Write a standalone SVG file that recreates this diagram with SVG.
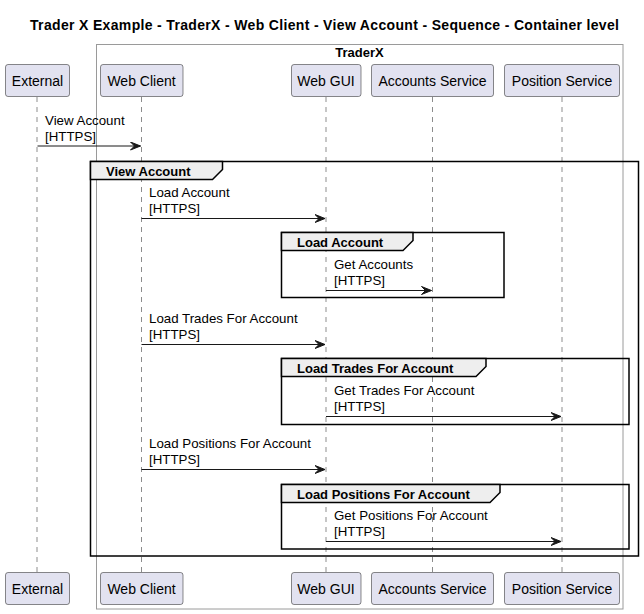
<svg xmlns="http://www.w3.org/2000/svg" width="644" height="614" viewBox="0 0 644 614">
<defs>
<style>
.title{font-family:"Liberation Sans",Arial,sans-serif;font-size:14px;font-weight:bold;fill:#000}
.box{fill:none;stroke:#9a9a9a;stroke-width:1}
.boxlabel{font-family:"Liberation Sans",Arial,sans-serif;font-size:13px;font-weight:bold;fill:#000}
.part rect{fill:#E2E2F0;stroke:#181818;stroke-width:0.5}
.part text{font-family:"Liberation Sans",Arial,sans-serif;font-size:14px;fill:#000;text-anchor:middle}
.life{stroke:#181818;stroke-width:0.5;stroke-dasharray:5,5;fill:none}
.frame{fill:none;stroke:#000;stroke-width:1.5}
.tab{fill:#EEEEEE;stroke:#000;stroke-width:1.5}
.tabtext{font-family:"Liberation Sans",Arial,sans-serif;font-size:13px;font-weight:bold;fill:#000}
.msg{stroke:#181818;stroke-width:1;fill:none}
.msgtext{font-family:"Liberation Sans",Arial,sans-serif;font-size:13.3px;fill:#000}
</style>
<marker id="arr" viewBox="0 0 11 9" refX="10.5" refY="4.5" markerWidth="11" markerHeight="9" markerUnits="userSpaceOnUse" orient="auto">
<polygon points="0.5,0.5 10.5,4.5 0.5,8.5 4.5,4.5" fill="#181818" stroke="#181818" stroke-width="1"/>
</marker>
</defs>
<rect width="644" height="614" fill="#fff"/>
<text class="title" x="30" y="29.5" textLength="589" lengthAdjust="spacing">Trader X Example - TraderX - Web Client - View Account - Sequence - Container level</text>

<g id="box-traderx">
<rect class="box" x="96.5" y="44.5" width="526.5" height="564.5"/>
<text class="boxlabel" x="359.5" y="57" text-anchor="middle">TraderX</text>
</g>

<g id="lifelines">
<line class="life" x1="37" y1="97" x2="37" y2="572"/>
<line class="life" x1="141.5" y1="97" x2="141.5" y2="572"/>
<line class="life" x1="326" y1="97" x2="326" y2="572"/>
<line class="life" x1="432.5" y1="97" x2="432.5" y2="572"/>
<line class="life" x1="562" y1="97" x2="562" y2="572"/>
</g>

<g id="external" class="part">
<rect x="5.5" y="64.5" width="64" height="32" rx="2.5"/>
<text x="37.5" y="86">External</text>
<rect x="5.5" y="572.5" width="64" height="32" rx="2.5"/>
<text x="37.5" y="594">External</text>
</g>
<g id="web-client" class="part">
<rect x="100.5" y="64.5" width="82.5" height="32" rx="2.5"/>
<text x="141.5" y="86">Web Client</text>
<rect x="100.5" y="572.5" width="82.5" height="32" rx="2.5"/>
<text x="141.5" y="594">Web Client</text>
</g>
<g id="web-gui" class="part">
<rect x="291.5" y="64.5" width="69.5" height="32" rx="2.5"/>
<text x="326" y="86">Web GUI</text>
<rect x="291.5" y="572.5" width="69.5" height="32" rx="2.5"/>
<text x="326" y="594">Web GUI</text>
</g>
<g id="accounts-service" class="part">
<rect x="371.5" y="64.5" width="122" height="32" rx="2.5"/>
<text x="432.5" y="86">Accounts Service</text>
<rect x="371.5" y="572.5" width="122" height="32" rx="2.5"/>
<text x="432.5" y="594">Accounts Service</text>
</g>
<g id="position-service" class="part">
<rect x="504.5" y="64.5" width="115" height="32" rx="2.5"/>
<text x="562" y="86">Position Service</text>
<rect x="504.5" y="572.5" width="115" height="32" rx="2.5"/>
<text x="562" y="594">Position Service</text>
</g>

<g id="group-view-account">
<rect class="frame" x="90.5" y="161.5" width="548" height="394.5"/>
<polygon class="tab" points="90.5,161.5 222.5,161.5 222.5,169.5 212.5,179.5 90.5,179.5"/>
<text class="tabtext" x="106" y="176">View Account</text>
</g>
<g id="group-load-account">
<rect class="frame" x="281.5" y="232.5" width="222.5" height="65"/>
<polygon class="tab" points="281.5,232.5 413,232.5 413,240.5 403,250.5 281.5,250.5"/>
<text class="tabtext" x="297" y="247">Load Account</text>
</g>
<g id="group-load-trades">
<rect class="frame" x="281.5" y="358.5" width="347.5" height="66"/>
<polygon class="tab" points="281.5,358.5 486,358.5 486,366.5 476,376.5 281.5,376.5"/>
<text class="tabtext" x="297" y="373">Load Trades For Account</text>
</g>
<g id="group-load-positions">
<rect class="frame" x="281.5" y="484.5" width="347.5" height="64.5"/>
<polygon class="tab" points="281.5,484.5 500,484.5 500,492.5 490,502.5 281.5,502.5"/>
<text class="tabtext" x="297" y="499">Load Positions For Account</text>
</g>

<g id="connectors">
<line class="msg" x1="37.5" y1="146" x2="140.5" y2="146" marker-end="url(#arr)"/>
<text class="msgtext" x="45" y="125">View Account</text>
<text class="msgtext" x="45" y="141">[HTTPS]</text>

<line class="msg" x1="141.5" y1="218.5" x2="325" y2="218.5" marker-end="url(#arr)"/>
<text class="msgtext" x="149" y="197">Load Account</text>
<text class="msgtext" x="149" y="213">[HTTPS]</text>

<line class="msg" x1="326" y1="290.5" x2="431.5" y2="290.5" marker-end="url(#arr)"/>
<text class="msgtext" x="334" y="269">Get Accounts</text>
<text class="msgtext" x="334" y="285">[HTTPS]</text>

<line class="msg" x1="141.5" y1="344.5" x2="325" y2="344.5" marker-end="url(#arr)"/>
<text class="msgtext" x="149" y="323">Load Trades For Account</text>
<text class="msgtext" x="149" y="339">[HTTPS]</text>

<line class="msg" x1="326" y1="416.5" x2="561" y2="416.5" marker-end="url(#arr)"/>
<text class="msgtext" x="334" y="395">Get Trades For Account</text>
<text class="msgtext" x="334" y="411">[HTTPS]</text>

<line class="msg" x1="141.5" y1="469.5" x2="325" y2="469.5" marker-end="url(#arr)"/>
<text class="msgtext" x="149" y="448">Load Positions For Account</text>
<text class="msgtext" x="149" y="464">[HTTPS]</text>

<line class="msg" x1="326" y1="541.5" x2="561" y2="541.5" marker-end="url(#arr)"/>
<text class="msgtext" x="334" y="520">Get Positions For Account</text>
<text class="msgtext" x="334" y="536">[HTTPS]</text>
</g>
</svg>
